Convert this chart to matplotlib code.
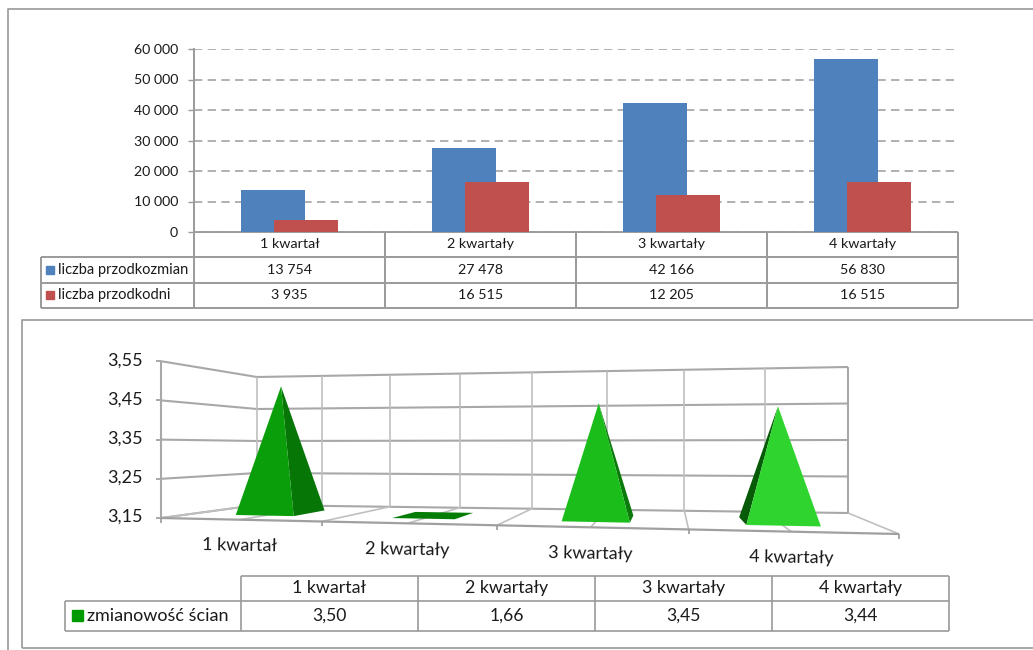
import numpy as np
import matplotlib
matplotlib.use("Agg")
import matplotlib.pyplot as plt
from matplotlib.patches import Polygon, Rectangle

plt.rcParams["font.family"] = ["Lato", "DejaVu Sans"]

kwartaly = ["1 kwartał", "2 kwartały", "3 kwartały", "4 kwartały"]
przodkozmian = [13754, 27478, 42166, 56830]
przodkodni = [3935, 16515, 12205, 16515]
zmianowosc = [3.50, 1.66, 3.45, 3.44]
yTicksTop = [0, 10000, 20000, 30000, 40000, 50000, 60000]
yTicks3d = [3.15, 3.25, 3.35, 3.45, 3.55]

BLUE = "#4f81bd"
RED = "#c0504d"
LINE = "#9a9a9a"
TEXT = "#1a1a1a"
WIDTH, HEIGHT = 1033, 650

fig = plt.figure(figsize=(WIDTH / 100, HEIGHT / 100), dpi=100)
# full size axes working in image pixels, for frames, tables and the 3d chart
ax = fig.add_axes([0, 0, 1, 1])
ax.set_xlim(0, WIDTH)
ax.set_ylim(HEIGHT, 0)
ax.axis("off")


def fmtInt(v):
    return f"{v:,}".replace(",", " ")


def fmtDec(v):
    return f"{v:.2f}".replace(".", ",")


def line(xs, ys, color=LINE, lw=1.4, z=2):
    ax.plot(xs, ys, color=color, lw=lw, zorder=z, solid_capstyle="butt")


# outer frames
line([7.5, 7.5, WIDTH], [650, 9, 9], "#a0a0a0", 1.3)
line([21.5, 21.5, WIDTH], [648, 320, 320], "#a0a0a0", 1.3)
line([21.5, WIDTH], [648, 648], "#a0a0a0", 1.3)


# top bar chart
def pxAxes(x0, x1, ytop, ybottom):
    return [x0 / WIDTH, 1 - ybottom / HEIGHT, (x1 - x0) / WIDTH, (ybottom - ytop) / HEIGHT]


top = fig.add_axes(pxAxes(194, 958, 49, 232))
top.patch.set_alpha(0)
pos = np.arange(len(kwartaly))
top.bar(pos - 0.088, przodkozmian, 0.337, color=BLUE, zorder=3)
top.bar(pos + 0.088, przodkodni, 0.337, color=RED, zorder=4)
top.set_xlim(-0.5, 3.5)
top.set_ylim(0, 60000)
top.set_yticks(yTicksTop)
top.set_yticklabels([fmtInt(v) for v in yTicksTop], fontsize=10.2, color=TEXT)
top.set_xticks([])
top.tick_params(axis="y", length=4.5, width=1, color=LINE, pad=7)
top.grid(axis="y", color="#a3a3a3", lw=1.2, ls=(0, (5, 3.2)), zorder=1)
top.set_axisbelow(True)
for s in ["top", "right", "bottom"]:
    top.spines[s].set_visible(False)
top.spines["left"].set_color(LINE)
top.spines["left"].set_linewidth(1.4)


def dataTable(colX, rowY, header, rows, swatches, headSize, nameSize, valueSize, keyX, textX, lw):
    # header row has no first column cell
    line([colX[1], colX[-1]], [rowY[0], rowY[0]], lw=lw)
    for y in rowY[1:]:
        line([colX[0], colX[-1]], [y, y], lw=lw)
    line([colX[0], colX[0]], [rowY[1], rowY[-1]], lw=lw)
    for x in colX[1:]:
        line([x, x], [rowY[0], rowY[-1]], lw=lw)
    for i, label in enumerate(header):
        ax.text((colX[i + 1] + colX[i + 2]) / 2, (rowY[0] + rowY[1]) / 2, label,
                ha="center", va="center", fontsize=headSize, color=TEXT)
    for r, (name, cells) in enumerate(rows):
        cy = (rowY[r + 1] + rowY[r + 2]) / 2
        size = textX - keyX - 4
        ax.add_patch(Rectangle((keyX, cy - size / 2), size, size, color=swatches[r], zorder=3))
        ax.text(textX, cy, name, ha="left", va="center", fontsize=nameSize, color=TEXT)
        for i, cell in enumerate(cells):
            ax.text((colX[i + 1] + colX[i + 2]) / 2, cy, cell, ha="center", va="center",
                    fontsize=valueSize, color=TEXT)


dataTable([40.5, 194, 385, 576, 767, 958], [232, 257, 282.5, 308], kwartaly,
          [("liczba przodkozmian", [fmtInt(v) for v in przodkozmian]),
           ("liczba przodkodni", [fmtInt(v) for v in przodkodni])],
          [BLUE, RED], 10.3, 10.5, 10.3, 46, 58, 1.4)

dataTable([65, 241, 418, 595, 772, 949], [576, 600.5, 631], kwartaly,
          [("zmianowość ścian", [fmtDec(v) for v in zmianowosc])],
          ["#009a00"], 12.8, 13, 12.6, 72, 87, 1.2)


# 3d chart: category position along the front and back floor edges is foreshortened
def edgeFit(x0, xMid, x1):
    # x = (a*u + x0) / (c*u + 1), through u=0, u=2, u=4
    m = np.array([[2, -2 * xMid], [4, -4 * x1]], float)
    a, c = np.linalg.solve(m, np.array([xMid - x0, x1 - x0], float))
    return lambda u: (a * u + x0) / (c * u + 1)


frontX = edgeFit(161, 497, 899)
backX = edgeFit(257, 532, 848)
BASE = yTicks3d[0]


def project(u, d, v=BASE):
    fx = frontX(u)
    bx = backX(u)
    frac = (fx - 161) / (899 - 161)
    x = fx + (bx - fx) * d
    yFloor = (518 + 16 * frac) * (1 - d) + (505 + 8 * frac) * d
    perUnit = (392 + 53 * frac) * (1 - d) + (320 + 45 * frac) * d
    return x, yFloor - perUnit * (max(v, BASE) - BASE)


def seg(a, b, color="#b4b4b4", lw=1.2, z=2):
    line([a[0], b[0]], [a[1], b[1]], color, lw, z)


for v in yTicks3d:
    seg(project(0, 0, v), project(0, 1, v), "#a8a8a8", 1.5)
    seg(project(0, 1, v), project(4, 1, v), "#a8a8a8", 1.5)
    x, y = project(0, 0, v)
    seg((x - 5, y), (x, y), LINE, 1.2)
    ax.text(x - 18, y - 1, fmtDec(v), ha="right", va="center", fontsize=13, color=TEXT)

for u in np.arange(0, 4.5, 0.5):
    seg(project(u, 1), project(u, 1, yTicks3d[-1]), "#c0c0c0", 1.2)
    seg(project(u, 0), project(u, 1), "#c0c0c0", 1.2)
seg(project(0, 0), project(0, 0, yTicks3d[-1]), "#a8a8a8", 1.5)
seg(project(4, 1), project(4, 1, yTicks3d[-1]), "#a8a8a8", 1.5)
seg(project(0, 0), project(4, 0), "#a0a0a0", 1.6)
for u in range(5):
    x, y = project(u, 0)
    seg((x, y), (x, y + 5), LINE, 1.2)

for i, label in enumerate(kwartaly):
    x, y = project(i + 0.5, 0)
    ax.text(x, y + 26, label, ha="center", va="center", fontsize=13, color=TEXT,
            rotation=-1, rotation_mode="anchor")

frontColors = ["#0a9e0a", "#067d06", "#1bbd1b", "#2fd42f"]
sideColors = ["#067606", "#067d06", "#0a7a0a", "#075a07"]
HALF = 0.19
for i, v in enumerate(zmianowosc):
    c = i + 0.5
    fl = project(c - HALF, 0.3)
    fr = project(c + HALF, 0.3)
    br = project(c + HALF, 0.7)
    bl = project(c - HALF, 0.7)
    tip = project(c, 0.5, v)
    if v <= BASE:
        # value under the axis minimum, only the base stays visible
        ax.add_patch(Polygon([fl, fr, br, bl], color=frontColors[i], lw=0, zorder=5))
        continue
    if br[0] > fr[0]:
        ax.add_patch(Polygon([fr, br, tip], color=sideColors[i], lw=0, zorder=5))
    if bl[0] < fl[0]:
        ax.add_patch(Polygon([fl, bl, tip], color=sideColors[i], lw=0, zorder=5))
    ax.add_patch(Polygon([fl, fr, tip], color=frontColors[i], lw=0, zorder=6))

fig.savefig("out.png", dpi=100)
